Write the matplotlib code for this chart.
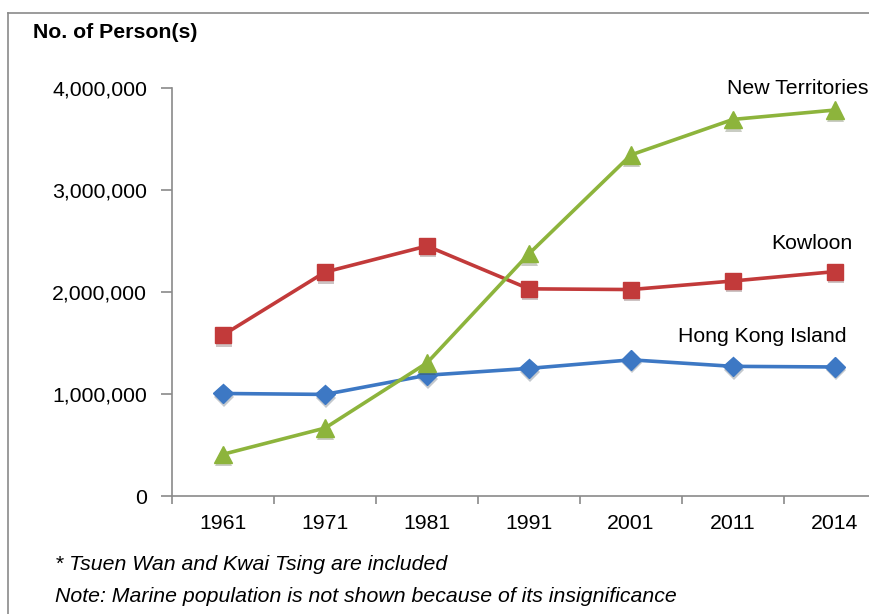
import matplotlib.pyplot as plt
import matplotlib.patheffects as pe
from matplotlib.lines import Line2D
from matplotlib.ticker import FuncFormatter

years = ['1961', '1971', '1981', '1991', '2001', '2011', '2014']
hk_island = [1005000, 996000, 1184000, 1251000, 1335000, 1271000, 1265000]
kowloon = [1578000, 2195000, 2451000, 2031000, 2024000, 2108000, 2200000]
new_territories = [409000, 666000, 1305000, 2375000, 3344000, 3692000, 3784000]

series = [
    ('Hong Kong Island', hk_island, '#3d78c4', 'D', 10),
    ('Kowloon', kowloon, '#c23a3a', 's', 11.5),
    ('New Territories', new_territories, '#8db43c', '^', 12.5),
]

plt.rcParams['font.family'] = ['Liberation Sans', 'DejaVu Sans']
FS = 15.3

fig = plt.figure(figsize=(8.7, 6.14), dpi=100)
ax = fig.add_axes([172 / 870, 118 / 614, 714 / 870, 408 / 614])

# outer frame of the original figure box (cropped at right/bottom)
fx, fy = 8.5 / 870, 1 - 12.5 / 614
fig.lines.append(Line2D([fx, 1.0], [fy, fy], transform=fig.transFigure,
                        color='#8a8a8a', linewidth=1.2))
fig.lines.append(Line2D([fx, fx], [0.0, fy], transform=fig.transFigure,
                        color='#8a8a8a', linewidth=1.2))

x = range(len(years))
for name, vals, color, marker, ms in series:
    ax.plot(x, vals, color=color, linewidth=2.6, zorder=2)
    ax.plot(x, vals, linestyle='none', marker=marker, markersize=ms,
            color=color, markeredgecolor=color, zorder=3,
            path_effects=[pe.withSimplePatchShadow(offset=(0.5, -2.5), alpha=0.25)])

ax.set_xlim(-0.5, 6.5)
ax.set_ylim(0, 4000000)
ax.set_yticks([0, 1000000, 2000000, 3000000, 4000000])
ax.yaxis.set_major_formatter(FuncFormatter(lambda v, p: f'{int(v):,}'))
ax.set_xticks([i - 0.5 for i in range(7)])
ax.set_xticklabels([])
ax.set_xticks(list(x), minor=True)
ax.set_xticklabels(years, minor=True)
ax.tick_params(axis='x', which='minor', length=0, labelsize=FS, pad=13)
ax.tick_params(axis='x', which='major', length=6, color='#8a8a8a', width=1.2)
ax.tick_params(axis='y', length=8, color='#8a8a8a', width=1.2, labelsize=FS, pad=10)

for s in ['top', 'right']:
    ax.spines[s].set_visible(False)
for s in ['left', 'bottom']:
    ax.spines[s].set_color('#8a8a8a')
    ax.spines[s].set_linewidth(1.2)

# series labels
ax.text(6.33, 4000000, 'New Territories', ha='right', va='center', fontsize=FS)
ax.text(6.17, 2475000, 'Kowloon', ha='right', va='center', fontsize=FS)
ax.text(6.11, 1560000, 'Hong Kong Island', ha='right', va='center', fontsize=FS)

fig.text(33 / 870, 1 - 33 / 614, 'No. of Person(s)', fontsize=FS, fontweight='bold',
         ha='left', va='center')
fig.text(55 / 870, 1 - 564 / 614, '* Tsuen Wan and Kwai Tsing are included', fontsize=FS,
         style='italic', ha='left', va='center')
fig.text(55 / 870, 1 - 596 / 614, 'Note: Marine population is not shown because of its insignificance',
         fontsize=FS, style='italic', ha='left', va='center')

fig.savefig('out.png', dpi=100)
